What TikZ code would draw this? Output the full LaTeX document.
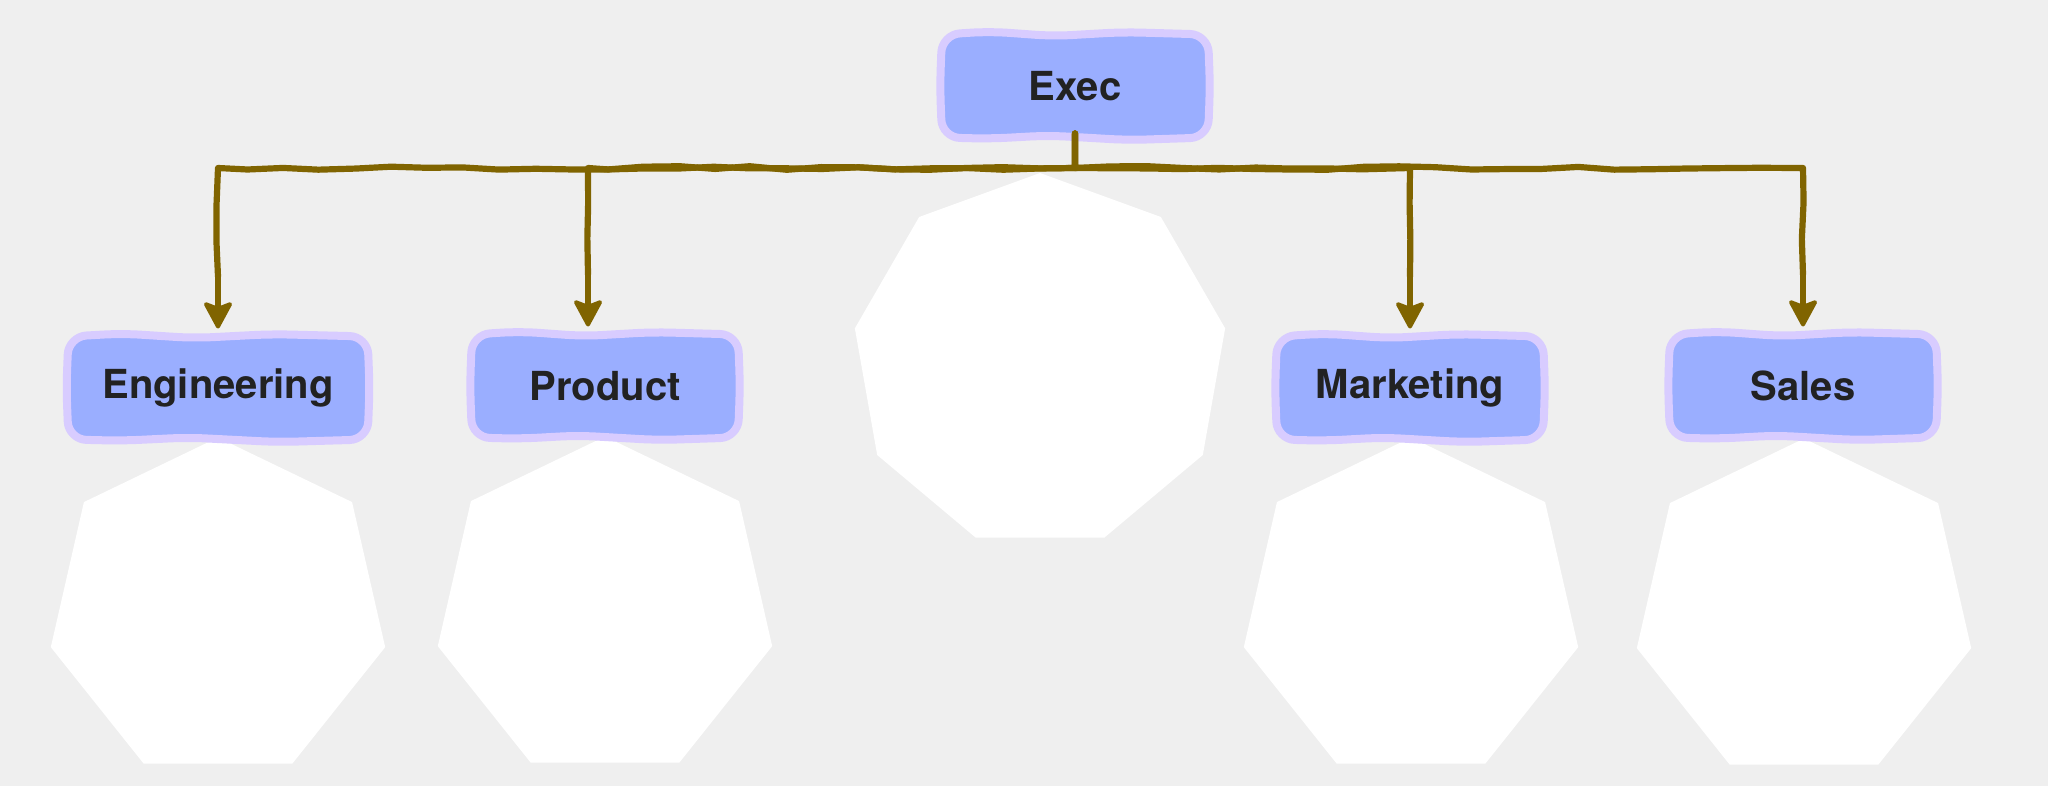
\documentclass[tikz,border=0pt]{standalone}
\usepackage{fontspec}
\setmainfont{TeX Gyre Heros}
\usetikzlibrary{shapes.geometric,decorations.pathmorphing,arrows.meta,calc}
\pgfdeclarelayer{canvas}
\pgfdeclarelayer{polys}
\pgfdeclarelayer{boxes}
\pgfsetlayers{canvas,polys,boxes,main}
\definecolor{bg}{HTML}{EFEFEF}
\definecolor{boxfill}{HTML}{9AAEFF}
\definecolor{boxedge}{HTML}{D8CCFF}
\definecolor{conncol}{HTML}{806400}
\definecolor{txt}{HTML}{222222}
\newcommand\skbox[1]{%
\path[boxshape] (#1.north west)
 -- ($(#1.north west)!0.18!(#1.north east)+(0pt,1.5pt)$)
 -- ($(#1.north west)!0.42!(#1.north east)+(0pt,-0.8pt)$)
 -- ($(#1.north west)!0.68!(#1.north east)+(0pt,1.2pt)$)
 -- (#1.north east)
 -- ($(#1.north east)!0.5!(#1.south east)+(1pt,0pt)$)
 -- (#1.south east)
 -- ($(#1.south east)!0.3!(#1.south west)+(0pt,-1.3pt)$)
 -- ($(#1.south east)!0.6!(#1.south west)+(0pt,1pt)$)
 -- ($(#1.south east)!0.82!(#1.south west)+(0pt,-0.6pt)$)
 -- (#1.south west)
 -- ($(#1.south west)!0.5!(#1.north west)+(-1pt,0pt)$)
 -- cycle;}
\begin{document}
\begin{tikzpicture}[x=0.5pt,y=-0.5pt,
  orgbox/.style={minimum width=133pt, minimum height=51.5pt, inner xsep=17pt,
    outer sep=0pt, text=txt, font=\fontsize{20}{24}\selectfont\bfseries},
  boxshape/.style={draw=boxedge, fill=boxfill, line width=4pt, line join=round,
    rounded corners=9pt},
  blob/.style={regular polygon, fill=white, draw=none, inner sep=0pt, outer sep=0pt},
  connline/.style={draw=conncol, line width=3.1pt, line join=round, line cap=round,
    decorate, decoration={random steps, segment length=18pt, amplitude=0.9pt}},
  conntip/.style={draw=conncol, line width=3.1pt, line cap=round,
    -{Stealth[length=15pt,width=16pt,inset=3pt,line width=2pt,fill=conncol,line join=round]},
    shorten >=4pt}
]
\pgfmathsetseed{7}
\useasboundingbox (0,0) rectangle (2048,786);
\begin{pgfonlayer}{canvas}
\fill[bg] (0,0) rectangle (2048,786);
\end{pgfonlayer}
% white polygons
\begin{pgfonlayer}{polys}
\node[blob, regular polygon sides=7, minimum size=171.5pt] (pEng) at (218,609) {};
\node[blob, regular polygon sides=7, minimum size=171.5pt] (pProd) at (605,608) {};
\node[blob, regular polygon sides=9, minimum size=188pt] (pExec) at (1040,361) {};
\node[blob, regular polygon sides=7, minimum size=171.5pt] (pMkt) at (1411,609) {};
\node[blob, regular polygon sides=7, minimum size=171.5pt] (pSales) at (1804,610) {};
\end{pgfonlayer}
% boxes
\node[orgbox] (exec) at (1075,86) {Exec};
\node[orgbox] (eng) at (218,388) {Engineering};
\node[orgbox] (prod) at (605,386) {Product};
\node[orgbox] (mkt) at (1410,388) {Marketing};
\node[orgbox] (sales) at (1803,386) {Sales};
\begin{pgfonlayer}{boxes}
\skbox{exec}\skbox{eng}\skbox{prod}\skbox{mkt}\skbox{sales}
\end{pgfonlayer}
% connectors
\coordinate (bus) at (1075,168);
\draw[connline] ([yshift=2pt]exec.south) -- (bus) -| ([yshift=30pt]eng.north);
\draw[conntip] ([yshift=30pt]eng.north) -- (eng.north);
\draw[connline] ([yshift=2pt]exec.south) -- (bus) -| ([xshift=-8.5pt,yshift=30pt]prod.north);
\draw[conntip] ([xshift=-8.5pt,yshift=30pt]prod.north) -- ([xshift=-8.5pt]prod.north);
\draw[connline] ([yshift=2pt]exec.south) -- (bus) -| ([yshift=30pt]mkt.north);
\draw[conntip] ([yshift=30pt]mkt.north) -- (mkt.north);
\draw[connline] ([yshift=2pt]exec.south) -- (bus) -| ([yshift=30pt]sales.north);
\draw[conntip] ([yshift=30pt]sales.north) -- (sales.north);
\end{tikzpicture}
\end{document}
